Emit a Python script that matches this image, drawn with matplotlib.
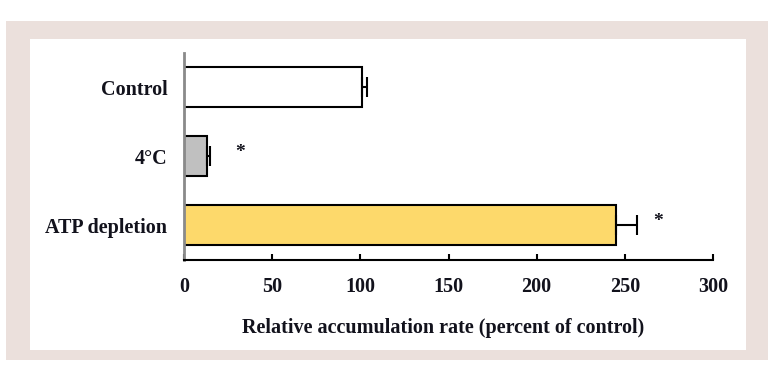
import numpy as np
import matplotlib
matplotlib.use("Agg")
import matplotlib.pyplot as plt
from matplotlib.patches import Rectangle

# ── data ─────────────────────────────────────────────────────────────────────
groups = ["Control", "4°C", "ATP depletion"]
rates = [101, 13, 245]        # relative accumulation rate (% of control)
errors = [2.5, 2, 12]         # upper error only
signif = ["", "*", "*"]
colors = ["#FFFFFF", "#C0C0C0", "#FDD96B"]

plt.rcParams["font.family"] = ["Liberation Serif", "DejaVu Serif"]
plt.rcParams["font.weight"] = "bold"
plt.rcParams["axes.labelweight"] = "bold"
TXT = "#12121c"

W, H = 780, 372
fig = plt.figure(figsize=(W / 100, H / 100), dpi=100)

# framed panel behind the chart
def px_rect(x0, y0, x1, y1, color):
    fig.patches.append(Rectangle((x0 / W, 1 - y1 / H), (x1 - x0) / W, (y1 - y0) / H,
                                 transform=fig.transFigure, facecolor=color,
                                 edgecolor="none", zorder=-10))

px_rect(6, 21, 768, 360, "#EBE0DC")
px_rect(30, 39, 746, 350, "#FFFFFF")

ax = fig.add_axes([184 / W, 1 - 260 / H, (713 - 184) / W, (260 - 52.7) / H])
ax.patch.set_alpha(0)

ypos = np.arange(len(groups))[::-1]
ax.barh(ypos, rates, height=0.58, color=colors, edgecolor="black", linewidth=1.5, zorder=2)
ax.errorbar(rates, ypos, xerr=[np.zeros(len(errors)), errors], fmt="none",
            ecolor="black", elinewidth=1.5, capsize=7, capthick=1.5, zorder=3)

# significance marks, a fixed distance after each bar
star_gap = [0, 17, 12]
for y, r, e, s, g in zip(ypos, rates, errors, signif, star_gap):
    if s:
        ax.text(r + e + g, y + 0.05, s, ha="center", va="center",
                fontsize=14, color=TXT)

ax.set_xlim(0, 300)
ax.set_ylim(-0.5, 2.5)
ax.set_xticks(np.arange(0, 301, 50))
ax.set_yticks(ypos)
ax.set_yticklabels(groups)

for sp in ["top", "right"]:
    ax.spines[sp].set_visible(False)
ax.spines["bottom"].set_linewidth(1.5)
ax.spines["bottom"].set_color("black")
ax.spines["left"].set_linewidth(2)
ax.spines["left"].set_color("#8a8a8a")

ax.tick_params(axis="x", direction="in", length=4, width=1.5, pad=12,
               labelsize=14.5, labelcolor=TXT)
ax.tick_params(axis="y", length=0, pad=12, labelsize=14.5, labelcolor=TXT)
ax.set_xlabel("Relative accumulation rate (percent of control)", fontsize=14.5,
              color=TXT, labelpad=17)
ax.xaxis.set_label_coords(0.49, -0.28)

fig.savefig("out.png", dpi=100)
